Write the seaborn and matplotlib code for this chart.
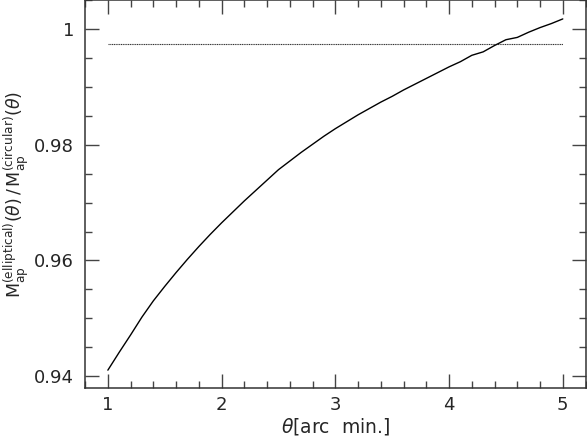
"""Elliptical vs circular aperture mass ratio as a function of aperture radius."""

import matplotlib

matplotlib.use("Agg")

import matplotlib.pyplot as plt
import pandas as pd
import seaborn as sns
from matplotlib.ticker import MultipleLocator

# aperture radius theta [arc min]
theta = [
    1.0, 1.1, 1.2, 1.3, 1.4, 1.5, 1.6, 1.7, 1.8, 1.9,
    2.0, 2.1, 2.2, 2.3, 2.4, 2.5, 2.6, 2.7, 2.8, 2.9,
    3.0, 3.1, 3.2, 3.3, 3.4, 3.5, 3.6, 3.7, 3.8, 3.9,
    4.0, 4.1, 4.2, 4.3, 4.4, 4.5, 4.6, 4.7, 4.8, 4.9, 5.0,
]
# M_ap(elliptical) / M_ap(circular)
ratio = [
    0.9410, 0.9441, 0.9471, 0.9502, 0.9530, 0.9555, 0.9579, 0.9602, 0.9624, 0.9645,
    0.9665, 0.9684, 0.9703, 0.9721, 0.9739, 0.9757, 0.9772, 0.9787, 0.9801, 0.9815,
    0.9828, 0.9840, 0.9852, 0.9863, 0.9874, 0.9884, 0.9895, 0.9905, 0.9915, 0.9925,
    0.9935, 0.9944, 0.9955, 0.9961, 0.9972, 0.9982, 0.9986, 0.9995, 1.0003, 1.0010,
    1.0018,
]
# reference level (flat line)
ref_theta = [1.0, 5.0]
ref_ratio = [0.99748, 0.99748]

df = pd.DataFrame({"theta": theta, "ratio": ratio})
df_ref = pd.DataFrame({"theta": ref_theta, "ratio": ref_ratio})

sns.set_theme(style="ticks")
plt.rcParams["font.family"] = ["DejaVu Sans"]
plt.rcParams["mathtext.fontset"] = "dejavusans"

fig = plt.figure(figsize=(5.87, 4.38), dpi=100)
ax = fig.add_axes([0.145, 0.114, 0.8525, 0.885])

sns.lineplot(data=df_ref, x="theta", y="ratio", color="#333333",
             linewidth=0.8, linestyle=(0, (1, 0.6)), ax=ax)
sns.lineplot(data=df, x="theta", y="ratio", color="black",
             linewidth=1.0, ax=ax)

ax.set_xlim(0.8, 5.2)
ax.set_ylim(0.9379, 1.005)
ax.xaxis.set_major_locator(MultipleLocator(1))
ax.xaxis.set_minor_locator(MultipleLocator(0.2))
ax.yaxis.set_major_locator(MultipleLocator(0.02))
ax.yaxis.set_minor_locator(MultipleLocator(0.005))
ax.set_yticks([0.94, 0.96, 0.98, 1.0])
ax.set_yticklabels(["0.94", "0.96", "0.98", "1"])

ax.tick_params(which="both", direction="in", top=True, right=True,
               color="#444444", labelsize=13, pad=8)
ax.tick_params(axis="x", which="both", pad=6)
ax.tick_params(which="major", length=10, width=1)
ax.tick_params(which="minor", length=5, width=1)
for side in ["left", "right", "top", "bottom"]:
    ax.spines[side].set_visible(True)
    ax.spines[side].set_linewidth(1.1)
    ax.spines[side].set_color("#333333")

ax.set_xlabel(r"$\theta$[arc  min.]", fontsize=13.5, labelpad=1)
ax.set_ylabel(
    r"$\mathrm{M}_{\mathrm{ap}}^{\mathrm{(elliptical)}}(\theta)\,/\,"
    r"\mathrm{M}_{\mathrm{ap}}^{\mathrm{(circular)}}(\theta)$",
    fontsize=12.5, labelpad=2,
)

fig.savefig("out.png", dpi=100)
